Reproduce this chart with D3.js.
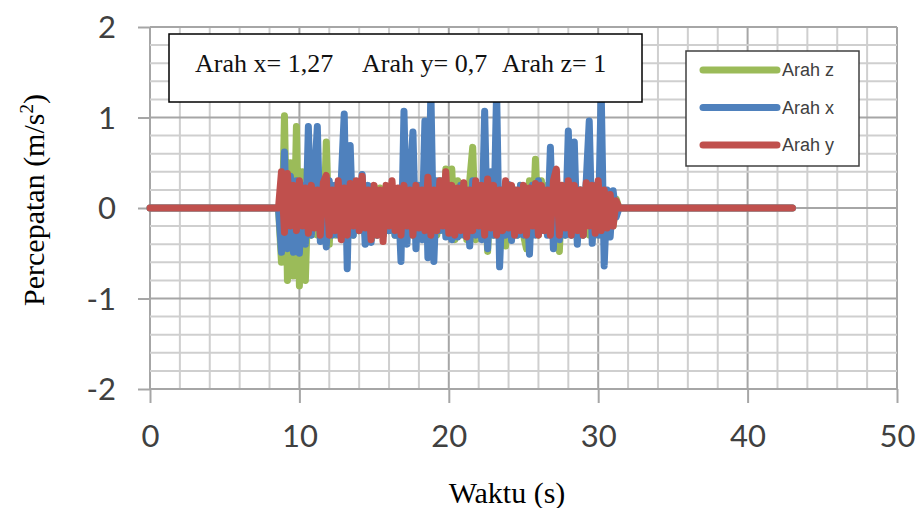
<!DOCTYPE html>
<html>
<head>
<meta charset="utf-8">
<script src="https://cdn.jsdelivr.net/npm/d3@7"></script>
<style>
  body { margin: 0; background: #fff; }
  #chart svg { display: block; }
</style>
</head>
<body>
<div id="chart"></div>
<script>
// recording: flat before/after, samples every 0.2 s in the active part
const recordStart = 0, recordEnd = 43;
const activeStart = 8.6, sampleStep = 0.2;

const arahZ = [
  0.0, -0.6, 1.02, -0.8, 0.5, -0.75, 0.9, -0.86, 0.4, -0.8,
  0.3, -0.3, 0.25, -0.3, 0.3, -0.35, 0.73, -0.4, 0.25, -0.3,
  0.2, -0.3, 0.3, -0.35, 0.25, -0.3, 0.2, -0.25, 0.3, -0.3,
  0.2, -0.35, 0.2, -0.3, 0.22, -0.3, 0.2, -0.25, 0.15, -0.3,
  0.2, -0.3, 0.25, -0.3, 0.2, -0.3, 0.25, -0.3, 0.2, -0.3,
  0.25, -0.3, 0.2, -0.3, 0.3, -0.25, 0.43, -0.3, 0.43, -0.35,
  0.3, -0.3, 0.25, -0.35, 0.3, 0.67, -0.35, 0.25, -0.3, 0.2,
  -0.48, 0.2, -0.3, 0.25, -0.35, 0.2, -0.42, 0.25, -0.3, 0.2,
  -0.3, 0.25, -0.3, -0.45, 0.3, -0.3, 0.54, -0.3, 0.3, -0.25,
  0.25, -0.3, 0.3, -0.3, -0.48, 0.25, -0.3, 0.3, -0.3, 0.25,
  -0.35, 0.2, -0.3, 0.25, -0.3, 0.2, -0.3, 0.25, -0.3, 0.2,
  -0.3, 0.15, -0.2, 0.1, 0.0
];

const arahX = [
  0.0, -0.49, 0.62, -0.45, 0.35, -0.49, 0.3, -0.5, 0.25, -0.4,
  0.9, -0.3, 0.3, 0.9, -0.37, 0.25, -0.43, 0.3, -0.3, 0.25,
  -0.3, 0.3, 1.04, -0.67, 0.69, -0.3, 0.2, -0.25, 0.37, -0.4,
  0.25, -0.38, 0.2, -0.3, 0.18, -0.3, 0.2, -0.25, 0.15, -0.3,
  0.2, -0.59, 1.07, -0.4, 0.3, 0.84, -0.45, 0.25, -0.35, 0.96,
  -0.55, 1.3, -0.59, 0.3, -0.25, 0.3, -0.32, 0.25, -0.35, 0.2,
  -0.32, 0.25, -0.3, 0.2, -0.42, 0.3, -0.3, 0.25, -0.35, 1.07,
  -0.45, 0.4, -0.3, 1.3, -0.65, 0.2, -0.3, 0.26, -0.36, 0.2,
  -0.3, 0.25, -0.3, 0.2, -0.51, 0.25, -0.3, 0.3, -0.25, 0.2,
  -0.3, 0.67, -0.45, 0.3, -0.35, 0.2, -0.3, 0.85, -0.3, 0.73,
  -0.4, 0.2, -0.3, 0.3, 0.96, -0.39, 0.25, -0.3, 1.3, -0.64,
  0.2, -0.32, 0.19, -0.1, 0.0
];

const arahY = [
  0.0, 0.4, -0.27, 0.38, -0.2, 0.25, -0.25, 0.3, -0.2, 0.22,
  -0.28, 0.25, -0.22, 0.2, -0.3, 0.28, 0.36, -0.3, 0.2, -0.25,
  0.3, -0.35, 0.22, -0.3, 0.27, -0.2, 0.3, -0.25, 0.35, -0.22,
  0.2, -0.35, 0.25, -0.3, 0.2, -0.37, 0.25, -0.2, 0.3, -0.25,
  0.22, -0.3, 0.25, -0.2, 0.2, -0.3, 0.25, -0.22, 0.2, -0.25,
  0.34, -0.3, 0.2, -0.25, 0.3, -0.2, 0.4, -0.28, 0.25, -0.3,
  0.22, -0.25, 0.28, -0.32, 0.2, -0.25, 0.3, -0.2, 0.25, -0.3,
  0.32, -0.22, 0.25, -0.3, 0.2, -0.25, 0.3, -0.22, 0.25, -0.3,
  0.2, -0.25, 0.25, -0.3, 0.22, -0.2, 0.27, -0.3, 0.25, -0.25,
  0.2, -0.3, 0.3, 0.43, -0.3, 0.25, -0.22, 0.3, -0.3, 0.25,
  -0.25, 0.2, -0.3, 0.28, -0.2, 0.25, -0.28, 0.3, -0.25, 0.2,
  -0.22, 0.15, -0.2, 0.08, 0.0
];

const xTicks = [0, 10, 20, 30, 40, 50];
const yTicks = [2, 1, 0, -1, -2];
const annotation = ["Arah x= 1,27", "Arah y= 0,7", "Arah z= 1"];
const legendNames = ["Arah z", "Arah x", "Arah y"];
const colors = { "Arah z": "#9bbb59", "Arah x": "#4f81bd", "Arah y": "#c0504d" };

const W = 919, H = 508;
const svg = d3.select("#chart").append("svg")
    .attr("width", W).attr("height", H);

const x = d3.scaleLinear().domain([0, 50]).range([150, 897]);
const y = d3.scaleLinear().domain([-2, 2]).range([389, 27]);

// grid
const grid = svg.append("g");
grid.selectAll(".vx").data(x.ticks(25)).enter().append("line")
    .attr("x1", d => x(d)).attr("x2", d => x(d))
    .attr("y1", y(2)).attr("y2", y(-2))
    .attr("stroke", d => d % 10 === 0 ? "#a6a6a6" : "#cfcfcf")
    .attr("stroke-width", 2);
grid.selectAll(".hy").data(y.ticks(20)).enter().append("line")
    .attr("x1", x(0)).attr("x2", x(50))
    .attr("y1", d => y(d)).attr("y2", d => y(d))
    .attr("stroke", d => Math.abs(d % 1) < 1e-6 ? "#a6a6a6" : "#cfcfcf")
    .attr("stroke-width", 2);

// axes
const xAxis = svg.append("g")
    .attr("transform", `translate(0,${y(-2)})`)
    .call(d3.axisBottom(x).tickValues(xTicks).tickSize(14).tickPadding(22));
const yAxis = svg.append("g")
    .attr("transform", `translate(${x(0)},0)`)
    .call(d3.axisLeft(y).tickValues(yTicks).tickSize(12).tickPadding(22)
        .tickFormat(d => String(d)));
[xAxis, yAxis].forEach(g => {
    g.select(".domain").remove();
    g.selectAll(".tick line").attr("stroke", "#a6a6a6").attr("stroke-width", 2);
    g.selectAll(".tick text")
        .attr("fill", "#404040")
        .style("font-family", "Lato, 'Open Sans', sans-serif")
        .style("font-size", "31px");
});
yAxis.selectAll(".tick text").attr("dy", "0.35em");

// series
function series(vals) {
    const pts = [[recordStart, 0]];
    vals.forEach((v, i) => pts.push([activeStart + i * sampleStep, v]));
    pts.push([recordEnd, 0]);
    return pts;
}
const data = [
    { name: "Arah z", pts: series(arahZ) },
    { name: "Arah x", pts: series(arahX) },
    { name: "Arah y", pts: series(arahY) }
];
const line = d3.line().x(d => x(d[0])).y(d => y(d[1]));
svg.append("g").selectAll("path").data(data).enter().append("path")
    .attr("d", d => line(d.pts))
    .attr("fill", "none")
    .attr("stroke", d => colors[d.name])
    .attr("stroke-width", 7)
    .attr("stroke-linejoin", "round")
    .attr("stroke-linecap", "round");

// annotation box
svg.append("rect")
    .attr("x", 169).attr("y", 34).attr("width", 473).attr("height", 68)
    .attr("fill", "#fff").attr("stroke", "#000").attr("stroke-width", 1.5);
const annX = [195, 362, 502];
svg.append("g").selectAll("text").data(annotation).enter().append("text")
    .attr("x", (d, i) => annX[i]).attr("y", 72)
    .style("font-family", "'Liberation Serif', 'Times New Roman', serif")
    .style("font-size", "26px")
    .attr("fill", "#111")
    .text(d => d);

// legend
const legend = svg.append("g");
legend.append("rect")
    .attr("x", 686).attr("y", 51).attr("width", 173).attr("height", 115)
    .attr("fill", "#fff").attr("stroke", "#404040").attr("stroke-width", 1.5);
legendNames.forEach((n, i) => {
    const ly = 70 + i * 37.5;
    legend.append("line")
        .attr("x1", 703).attr("x2", 777).attr("y1", ly).attr("y2", ly)
        .attr("stroke", colors[n]).attr("stroke-width", 7)
        .attr("stroke-linecap", "round");
    legend.append("text")
        .attr("x", 782).attr("y", ly + 6)
        .style("font-family", "'Liberation Sans', Arial, sans-serif")
        .style("font-size", "18px")
        .attr("fill", "#404040")
        .text(n);
});

// axis titles
svg.append("text")
    .attr("x", 507).attr("y", 503)
    .attr("text-anchor", "middle")
    .style("font-family", "'Liberation Serif', 'Times New Roman', serif")
    .style("font-size", "30px")
    .attr("fill", "#000")
    .text("Waktu (s)");
const yt = svg.append("text")
    .attr("transform", "translate(44,200) rotate(-90)")
    .attr("text-anchor", "middle")
    .style("font-family", "'Liberation Serif', 'Times New Roman', serif")
    .style("font-size", "30px")
    .attr("fill", "#000");
yt.append("tspan").text("Percepatan (m/s");
yt.append("tspan").attr("dy", -11).style("font-size", "19px").text("2");
yt.append("tspan").attr("dy", 11).text(")");
</script>
</body>
</html>
